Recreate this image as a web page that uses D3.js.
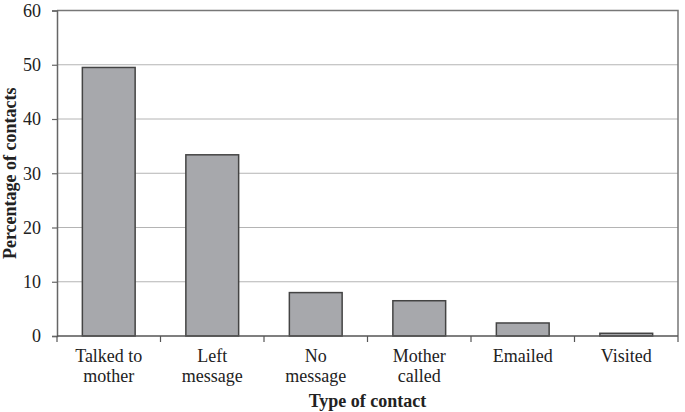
<!DOCTYPE html>
<html>
<head>
<meta charset="utf-8">
<script src="https://cdn.jsdelivr.net/npm/d3@7"></script>
<style>
  body { margin: 0; background: #fff; }
  svg text { font-family: "Liberation Serif", "Times New Roman", serif; }
</style>
</head>
<body>
<div id="chart"></div>
<script>
const categories = [['Talked to', 'mother'], ['Left', 'message'], ['No', 'message'], ['Mother', 'called'], ['Emailed'], ['Visited']];
const values = [49.5, 33.4, 8.0, 6.5, 2.4, 0.5];
const yTicks = [0, 10, 20, 30, 40, 50, 60];

const width = 685, height = 412;
const margin = { top: 10.5, right: 7, bottom: 76, left: 57 };
const chartWidth = width - margin.left - margin.right;
const chartHeight = height - margin.top - margin.bottom;
const serif = '"Liberation Serif", "Times New Roman", serif';

const svg = d3.select('#chart').append('svg')
    .attr('width', width)
    .attr('height', height);

const g = svg.append('g')
    .attr('transform', `translate(${margin.left},${margin.top})`);

const x = d3.scaleBand()
    .domain(d3.range(categories.length))
    .range([0, chartWidth])
    .paddingInner(0.49)
    .paddingOuter(0.245);

const xOuter = d3.scaleBand()
    .domain(d3.range(categories.length))
    .range([0, chartWidth]);

const y = d3.scaleLinear()
    .domain([0, 60])
    .range([chartHeight, 0]);

// Gridlines
g.selectAll('.grid')
    .data(yTicks.slice(1))
    .enter()
    .append('line')
    .attr('x1', 0)
    .attr('x2', chartWidth)
    .attr('y1', d => y(d))
    .attr('y2', d => y(d))
    .attr('stroke', '#b4b4b4')
    .attr('stroke-width', 1);

// Plot frame (top and right)
g.append('path')
    .attr('d', `M0,${y(60)}H${chartWidth}V${chartHeight}`)
    .attr('fill', 'none')
    .attr('stroke', '#777')
    .attr('stroke-width', 1.5);

// Bars
g.selectAll('.bar')
    .data(values)
    .enter()
    .append('rect')
    .attr('x', (d, i) => x(i))
    .attr('y', d => y(d))
    .attr('width', x.bandwidth())
    .attr('height', d => chartHeight - y(d))
    .attr('fill', '#a7a8ac')
    .attr('stroke', '#444')
    .attr('stroke-width', 1.5);

// Y axis
const yAxis = d3.axisLeft(y)
    .tickValues(yTicks)
    .tickSize(5)
    .tickPadding(11);

g.append('g')
    .call(yAxis)
    .attr('font-family', serif)
    .attr('font-size', 18)
    .call(a => a.select('.domain').attr('stroke', '#666').attr('stroke-width', 1.5))
    .call(a => a.selectAll('.tick line').attr('stroke', '#666').attr('stroke-width', 1.2))
    .call(a => a.selectAll('text').attr('fill', '#222'));

// X axis
const xAxisG = g.append('g')
    .attr('transform', `translate(0,${chartHeight})`);

xAxisG.append('line')
    .attr('x1', 0)
    .attr('x2', chartWidth)
    .attr('stroke', '#555')
    .attr('stroke-width', 1.5);

xAxisG.selectAll('.xtick')
    .data(d3.range(categories.length + 1))
    .enter()
    .append('line')
    .attr('x1', d => d < categories.length ? xOuter(d) : chartWidth)
    .attr('x2', d => d < categories.length ? xOuter(d) : chartWidth)
    .attr('y1', 0)
    .attr('y2', 6)
    .attr('stroke', '#555')
    .attr('stroke-width', 1.2);

xAxisG.selectAll('.xlabel')
    .data(categories)
    .enter()
    .append('text')
    .attr('text-anchor', 'middle')
    .attr('fill', '#222')
    .attr('font-family', serif)
    .attr('font-size', 18)
    .each(function(lines, i) {
        const t = d3.select(this);
        lines.forEach((ln, j) => {
            t.append('tspan')
                .attr('x', xOuter(i) + xOuter.bandwidth() / 2)
                .attr('y', 26 + j * 20)
                .text(ln);
        });
    });

// Axis titles
svg.append('text')
    .attr('x', margin.left + chartWidth / 2)
    .attr('y', 407)
    .attr('text-anchor', 'middle')
    .attr('font-family', serif)
    .attr('font-size', 18)
    .attr('font-weight', 'bold')
    .attr('fill', '#222')
    .text('Type of contact');

svg.append('text')
    .attr('transform', `translate(16,${margin.top + chartHeight / 2}) rotate(-90)`)
    .attr('text-anchor', 'middle')
    .attr('font-family', serif)
    .attr('font-size', 18)
    .attr('font-weight', 'bold')
    .attr('fill', '#222')
    .text('Percentage of contacts');
</script>
</body>
</html>
